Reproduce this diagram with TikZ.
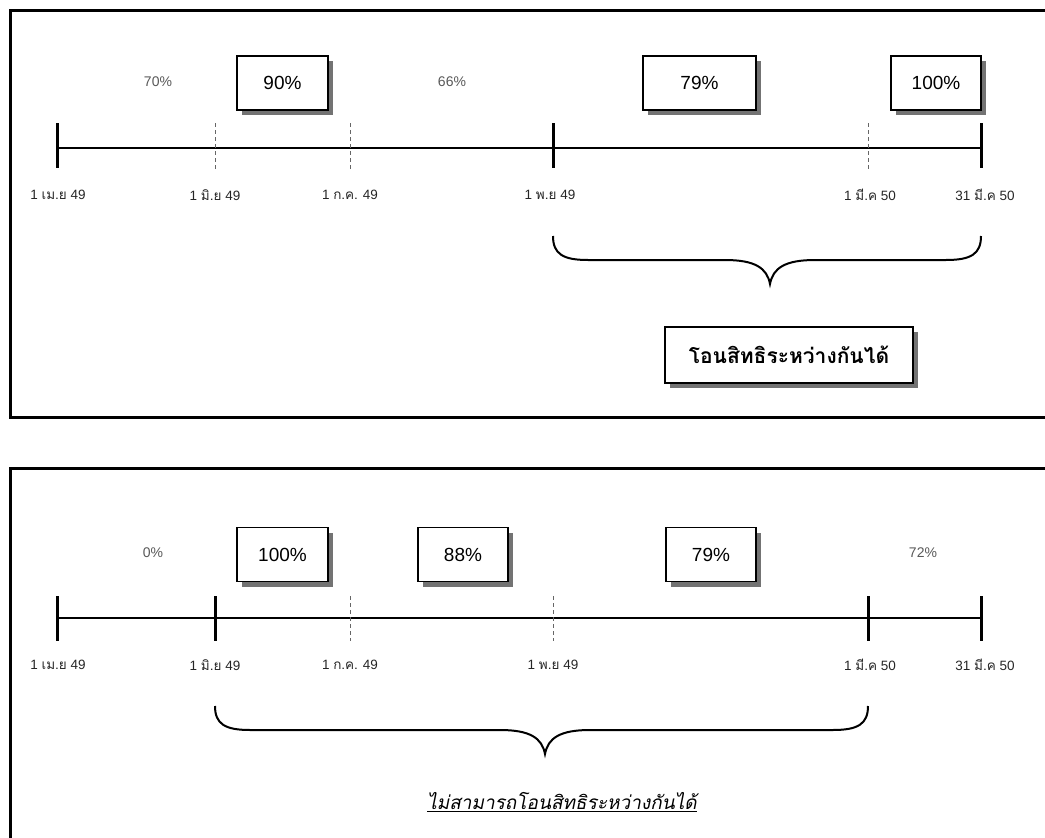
\documentclass[tikz,border=0pt]{standalone}
\usepackage{fontspec}
\setmainfont{Liberation Sans}
\newfontfamily\thaifont[Script=Thai]{Loma}
\newfontfamily\thaislant[Script=Thai,FakeSlant=0.2]{Loma}
\newcommand\tht[1]{{\thaifont #1}}
\usetikzlibrary{shadows,calc}

\tikzset{
  frame/.style={line width=3pt},
  axis/.style={line width=2.5pt},
  major/.style={line width=3pt},
  minor/.style={line width=0.8pt, black!60, dash pattern=on 4pt off 3pt},
  pct/.style={font=\fontsize{14}{16}\selectfont, text=black!65},
  datelbl/.style={font=\fontsize{13.5}{16}\selectfont, text=black!85},
  valbox/.style={draw, line width=1.5pt, fill=white, minimum height=54pt,
    inner sep=0pt, font=\fontsize{19}{21}\selectfont,
    drop shadow={shadow xshift=5pt, shadow yshift=-5pt, fill=black!55, opacity=1}},
  brace/.style={line width=2pt},
}

\begin{document}
\begin{tikzpicture}[x=1pt,y=-1pt]
\useasboundingbox (0,0) rectangle (1045,838);
\clip (0,0) rectangle (1045,838);
\fill[white] (0,0) rectangle (1045,838);

% ---------- upper panel ----------
\draw[frame] (1060,10) -- (10,10) -- (10,417) -- (1060,417);

\coordinate (a0) at (57,148);
\coordinate (a1) at (215,148);
\coordinate (a2) at (350,148);
\coordinate (a3) at (553,148);
\coordinate (a4) at (868,148);
\coordinate (a5) at (981,148);

\draw[axis] (a0) -- (a5);
\foreach \p in {a0,a3,a5} \draw[major] ($(\p)+(0,-25)$) -- ($(\p)+(0,20)$);
\foreach \p in {a1,a2,a4} \draw[minor] ($(\p)+(0,-25)$) -- ($(\p)+(0,21)$);

\node[datelbl] (d0) at (58,195) {1 \tht{เม.ย} 49};
\node[datelbl] (d1) at (215,195) {1 \tht{มิ.ย} 49};
\node[datelbl] (d2) at (350,195) {1 \tht{ก.ค.} 49};
\node[datelbl] (d3) at (550,195) {1 \tht{พ.ย} 49};
\node[datelbl] (d4) at (870,195) {1 \tht{มี.ค} 50};
\node[datelbl] (d5) at (985,195) {31 \tht{มี.ค} 50};

\node[pct] (p1) at (158,82) {70\%};
\node[valbox, minimum width=91pt] (b1) at (282.5,83) {90\%};
\node[pct] (p2) at (452,82) {66\%};
\node[valbox, minimum width=113pt] (b2) at (699.5,83) {79\%};
\node[valbox, minimum width=90pt] (b3) at (936,83) {100\%};

% brace under the transferable period
\coordinate (t1) at (770,284);
\draw[brace] ($(a3)+(0,88)$) .. controls ($(a3)+(0,106)$) and ($(a3)+(10,112)$) .. ($(a3)+(35,112)$)
  -- ($(t1)+(-45,-24)$) .. controls ($(t1)+(-15,-24)$) and ($(t1)+(-3,-16)$) .. (t1)
  .. controls ($(t1)+(3,-16)$) and ($(t1)+(15,-24)$) .. ($(t1)+(45,-24)$)
  -- ($(a5)+(-35,112)$) .. controls ($(a5)+(-10,112)$) and ($(a5)+(0,106)$) .. ($(a5)+(0,88)$);

\node[draw, line width=1.5pt, fill=white, minimum width=248pt, minimum height=56pt,
  inner sep=0pt, font=\fontsize{21}{24}\selectfont\bfseries,
  drop shadow={shadow xshift=5pt, shadow yshift=-5pt, fill=black!55, opacity=1}]
  (ok) at (789,355) {\tht{โอนสิทธิระหว่างกันได้}};

% ---------- lower panel ----------
\draw[frame] (1060,468) -- (10,468) -- (10,850);

\coordinate (c0) at (57,618);
\coordinate (c1) at (215,618);
\coordinate (c2) at (350,618);
\coordinate (c3) at (553,618);
\coordinate (c4) at (868,618);
\coordinate (c5) at (981,618);

\draw[axis] (c0) -- (c5);
\foreach \p in {c0,c1,c4,c5} \draw[major] ($(\p)+(0,-22)$) -- ($(\p)+(0,23)$);
\foreach \p in {c2,c3} \draw[minor] ($(\p)+(0,-22)$) -- ($(\p)+(0,23)$);

\node[datelbl] (e0) at (58,665) {1 \tht{เม.ย} 49};
\node[datelbl] (e1) at (215,665) {1 \tht{มิ.ย} 49};
\node[datelbl] (e2) at (350,665) {1 \tht{ก.ค.} 49};
\node[datelbl] (e3) at (553,665) {1 \tht{พ.ย} 49};
\node[datelbl] (e4) at (870,665) {1 \tht{มี.ค} 50};
\node[datelbl] (e5) at (985,665) {31 \tht{มี.ค} 50};

\node[pct] (q1) at (153,553) {0\%};
\node[valbox, minimum width=91pt] (g1) at (282.5,554.5) {100\%};
\node[valbox, minimum width=90pt] (g2) at (463,554.5) {88\%};
\node[valbox, minimum width=90pt] (g3) at (711,554.5) {79\%};
\node[pct] (q2) at (923,553) {72\%};

% brace under the non-transferable period
\coordinate (t2) at (545,754);
\draw[brace] ($(c1)+(0,88)$) .. controls ($(c1)+(0,106)$) and ($(c1)+(10,112)$) .. ($(c1)+(35,112)$)
  -- ($(t2)+(-45,-24)$) .. controls ($(t2)+(-15,-24)$) and ($(t2)+(-3,-16)$) .. (t2)
  .. controls ($(t2)+(3,-16)$) and ($(t2)+(15,-24)$) .. ($(t2)+(45,-24)$)
  -- ($(c4)+(-35,112)$) .. controls ($(c4)+(-10,112)$) and ($(c4)+(0,106)$) .. ($(c4)+(0,88)$);

\node[font=\fontsize{19}{22}\selectfont] (no) at (562,802)
  {\underline{\thaislant ไม่สามารถโอนสิทธิระหว่างกันได้}};
\end{tikzpicture}
\end{document}
